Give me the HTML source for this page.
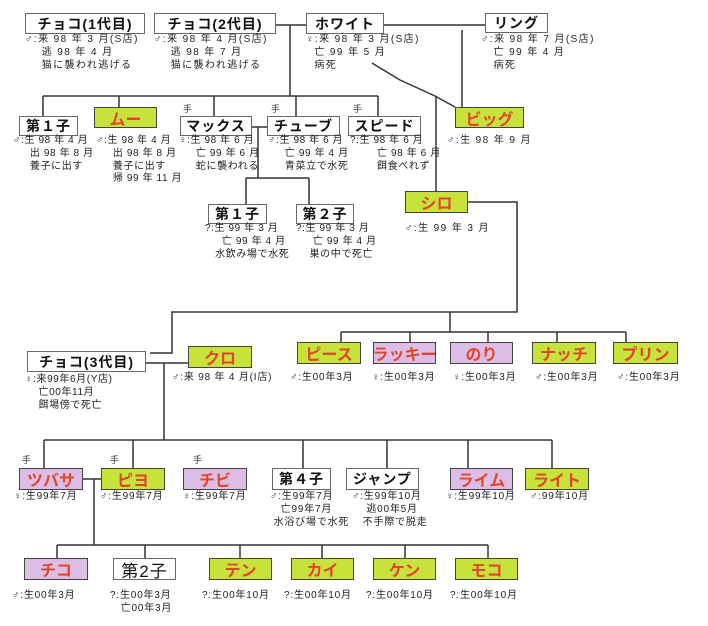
<!DOCTYPE html>
<html><head><meta charset="utf-8"><style>
body{margin:0;width:708px;height:626px;background:#fff;position:relative;overflow:hidden;font-family:"Liberation Sans","Noto Sans CJK JP",sans-serif;}
.b{position:absolute;box-sizing:border-box;border:1.5px solid #666;background:#fff;font-weight:bold;font-size:14px;text-align:center;color:#111;display:flex;align-items:center;justify-content:center;letter-spacing:1px;white-space:nowrap;}
.g{background:#c8e23c;border-color:#444;color:#e0462a;font-size:16px;letter-spacing:0;}
.p{background:#dcbde6;border-color:#444;color:#e0462a;font-size:16px;letter-spacing:0;}
.t{position:absolute;font-size:10px;line-height:12.8px;color:#222;white-space:nowrap;letter-spacing:1.4px;}
.m{letter-spacing:.6px;}
.h{position:absolute;font-size:9px;color:#333;}
svg{position:absolute;left:0;top:0;}
</style></head><body>
<svg width="708" height="626" fill="none" stroke="#333" stroke-width="1.5">
<path d="M276 25H306M384 25H485"/>
<path d="M290 25V96M43 96H378M43 96V116M119 96V107M214 96V116M296 96V116M378 96V116"/>
<path d="M252 127H267M258 127V178M246 178H309M246 178V204M309 178V204"/>
<path d="M372 63L400 80L435 96L455 107M436 96V191M462 30V107"/>
<path d="M468 202H517V312H172V353H150M172 312"/>
<path d="M146 363H188M164 363V440"/>
<path d="M450 312V332M341 332H626M341 332V342M410 332V342M488 332V342M557 332V342M626 332V342"/>
<path d="M44 440H552M44 440V468M133 440V468M303 440V468M387 440V468M468 440V468M552 440V468"/>
<path d="M83 479H101M94 479V545M57 545H488M57 545V558M145 545V558M240 545V558M322 545V558M405 545V558M488 545V558"/>
</svg>

<div class="b" style="left:25px;top:13px;width:120px;height:21px">チョコ(1代目)</div>
<div class="t" style="left:25px;top:34px">♂:来 98 年 3 月(S店)<br>&nbsp;&nbsp;&nbsp;&nbsp;逃 98 年 4 月<br>&nbsp;&nbsp;&nbsp;&nbsp;猫に襲われ逃げる</div>
<div class="b" style="left:154px;top:13px;width:122px;height:21px">チョコ(2代目)</div>
<div class="t" style="left:154px;top:34px">♂:来 98 年 4 月(S店)<br>&nbsp;&nbsp;&nbsp;&nbsp;逃 98 年 7 月<br>&nbsp;&nbsp;&nbsp;&nbsp;猫に襲われ逃げる</div>
<div class="b" style="left:306px;top:13px;width:78px;height:21px">ホワイト</div>
<div class="t" style="left:306px;top:34px">♀:来 98 年 3 月(S店)<br>&nbsp;&nbsp;亡 99 年 5 月<br>&nbsp;&nbsp;病死</div>
<div class="b" style="left:485px;top:13px;width:63px;height:20px">リング</div>
<div class="t" style="left:481px;top:34px">♂:来 98 年 7 月(S店)<br>&nbsp;&nbsp;&nbsp;亡 99 年 4 月<br>&nbsp;&nbsp;&nbsp;病死</div>

<div class="b" style="left:19px;top:116px;width:59px;height:20px">第１子</div>
<div class="t m" style="left:13px;top:135px">♂:生 98 年 4 月<br>&nbsp;&nbsp;&nbsp;&nbsp;&nbsp;出 98 年 8 月<br>&nbsp;&nbsp;&nbsp;&nbsp;&nbsp;養子に出す</div>
<div class="b g" style="left:94px;top:107px;width:63px;height:21px">ムー</div>
<div class="t m" style="left:96px;top:135px">♂:生 98 年 4 月<br>&nbsp;&nbsp;&nbsp;&nbsp;&nbsp;出 98 年 8 月<br>&nbsp;&nbsp;&nbsp;&nbsp;&nbsp;養子に出す<br>&nbsp;&nbsp;&nbsp;&nbsp;&nbsp;帰 99 年 11 月</div>
<div class="h" style="left:183px;top:102px">手</div>
<div class="b" style="left:180px;top:116px;width:72px;height:20px">マックス</div>
<div class="t m" style="left:179px;top:135px">♀:生 98 年 6 月<br>&nbsp;&nbsp;&nbsp;&nbsp;&nbsp;亡 99 年 6 月<br>&nbsp;&nbsp;&nbsp;&nbsp;&nbsp;蛇に襲われる</div>
<div class="h" style="left:271px;top:102px">手</div>
<div class="b" style="left:267px;top:116px;width:73px;height:20px">チューブ</div>
<div class="t m" style="left:268px;top:135px">♂:生 98 年 6 月<br>&nbsp;&nbsp;&nbsp;&nbsp;&nbsp;亡 99 年 4 月<br>&nbsp;&nbsp;&nbsp;&nbsp;&nbsp;青菜立で水死</div>
<div class="h" style="left:353px;top:102px">手</div>
<div class="b" style="left:348px;top:116px;width:73px;height:20px">スピード</div>
<div class="t m" style="left:350px;top:135px">?:生 98 年 6 月<br>&nbsp;&nbsp;&nbsp;&nbsp;&nbsp;&nbsp;&nbsp;&nbsp;亡 98 年 6 月<br>&nbsp;&nbsp;&nbsp;&nbsp;&nbsp;&nbsp;&nbsp;&nbsp;餌食べれず</div>
<div class="b g" style="left:455px;top:107px;width:69px;height:21px">ビッグ</div>
<div class="t" style="left:447px;top:135px">♂:生 98 年 9 月</div>

<div class="b" style="left:208px;top:204px;width:59px;height:20px">第１子</div>
<div class="t m" style="left:205px;top:223px">?:生 99 年 3 月<br>&nbsp;&nbsp;&nbsp;&nbsp;&nbsp;亡 99 年 4 月<br>&nbsp;&nbsp;&nbsp;水飲み場で水死</div>
<div class="b" style="left:296px;top:204px;width:58px;height:20px">第２子</div>
<div class="t m" style="left:296px;top:223px">?:生 99 年 3 月<br>&nbsp;&nbsp;&nbsp;&nbsp;&nbsp;亡 99 年 4 月<br>&nbsp;&nbsp;&nbsp;&nbsp;巣の中で死亡</div>
<div class="b g" style="left:405px;top:191px;width:63px;height:22px">シロ</div>
<div class="t" style="left:405px;top:223px">♂:生 99 年 3 月</div>

<div class="b" style="left:27px;top:351px;width:119px;height:21px">チョコ(3代目)</div>
<div class="t" style="left:25px;top:374px;letter-spacing:.6px">♀:来99年6月(Y店)<br>&nbsp;&nbsp;&nbsp;&nbsp;亡00年11月<br>&nbsp;&nbsp;&nbsp;&nbsp;餌場傍で死亡</div>
<div class="b g" style="left:188px;top:346px;width:64px;height:22px">クロ</div>
<div class="t" style="left:172px;top:372px;letter-spacing:.8px">♂:来 98 年 4 月(I店)</div>

<div class="b g" style="left:297px;top:342px;width:64px;height:22px">ピース</div>
<div class="b p" style="left:373px;top:342px;width:63px;height:22px">ラッキー</div>
<div class="b p" style="left:450px;top:342px;width:63px;height:22px">のり</div>
<div class="b g" style="left:532px;top:342px;width:64px;height:22px">ナッチ</div>
<div class="b g" style="left:613px;top:342px;width:65px;height:22px">プリン</div>
<div class="t" style="left:290px;top:372px;letter-spacing:.8px">♂:生00年3月</div>
<div class="t" style="left:372px;top:372px;letter-spacing:.8px">♀:生00年3月</div>
<div class="t" style="left:453px;top:372px;letter-spacing:.8px">♀:生00年3月</div>
<div class="t" style="left:535px;top:372px;letter-spacing:.8px">♂:生00年3月</div>
<div class="t" style="left:617px;top:372px;letter-spacing:.8px">♂:生00年3月</div>

<div class="h" style="left:22px;top:453px">手</div>
<div class="b p" style="left:19px;top:468px;width:64px;height:22px">ツバサ</div>
<div class="t" style="left:14px;top:491px;letter-spacing:.8px">♀:生99年7月</div>
<div class="h" style="left:110px;top:453px">手</div>
<div class="b g" style="left:101px;top:468px;width:64px;height:22px">ピヨ</div>
<div class="t" style="left:100px;top:491px;letter-spacing:.8px">♂:生99年7月</div>
<div class="h" style="left:193px;top:453px">手</div>
<div class="b p" style="left:183px;top:468px;width:64px;height:22px">チビ</div>
<div class="t" style="left:183px;top:491px;letter-spacing:.8px">♀:生99年7月</div>
<div class="b" style="left:272px;top:468px;width:59px;height:22px">第４子</div>
<div class="t" style="left:270px;top:491px;letter-spacing:.8px">♂:生99年7月<br>&nbsp;&nbsp;&nbsp;亡99年7月<br>&nbsp;水浴び場で水死</div>
<div class="b" style="left:346px;top:468px;width:73px;height:22px">ジャンプ</div>
<div class="t" style="left:352px;top:491px;letter-spacing:.8px">♂:生99年10月<br>&nbsp;&nbsp;&nbsp;&nbsp;逃00年5月<br>&nbsp;&nbsp;&nbsp;不手際で脱走</div>
<div class="b p" style="left:450px;top:468px;width:63px;height:22px">ライム</div>
<div class="t" style="left:446px;top:491px;letter-spacing:.8px">♀:生99年10月</div>
<div class="b g" style="left:525px;top:468px;width:64px;height:22px">ライト</div>
<div class="t" style="left:530px;top:491px;letter-spacing:.8px">♂:99年10月</div>

<div class="b p" style="left:24px;top:558px;width:64px;height:22px">チコ</div>
<div class="t" style="left:12px;top:590px;letter-spacing:.8px">♂:生00年3月</div>
<div class="b" style="left:113px;top:558px;width:63px;height:22px;font-weight:normal;font-size:17px">第2子</div>
<div class="t" style="left:110px;top:590px;letter-spacing:.8px">?:生00年3月<br>&nbsp;&nbsp;&nbsp;亡00年3月</div>
<div class="b g" style="left:209px;top:558px;width:63px;height:22px">テン</div>
<div class="t" style="left:202px;top:590px;letter-spacing:.8px">?:生00年10月</div>
<div class="b g" style="left:291px;top:558px;width:63px;height:22px">カイ</div>
<div class="t" style="left:284px;top:590px;letter-spacing:.8px">?:生00年10月</div>
<div class="b g" style="left:373px;top:558px;width:63px;height:22px">ケン</div>
<div class="t" style="left:366px;top:590px;letter-spacing:.8px">?:生00年10月</div>
<div class="b g" style="left:455px;top:558px;width:63px;height:22px">モコ</div>
<div class="t" style="left:450px;top:590px;letter-spacing:.8px">?:生00年10月</div>
</body></html>
